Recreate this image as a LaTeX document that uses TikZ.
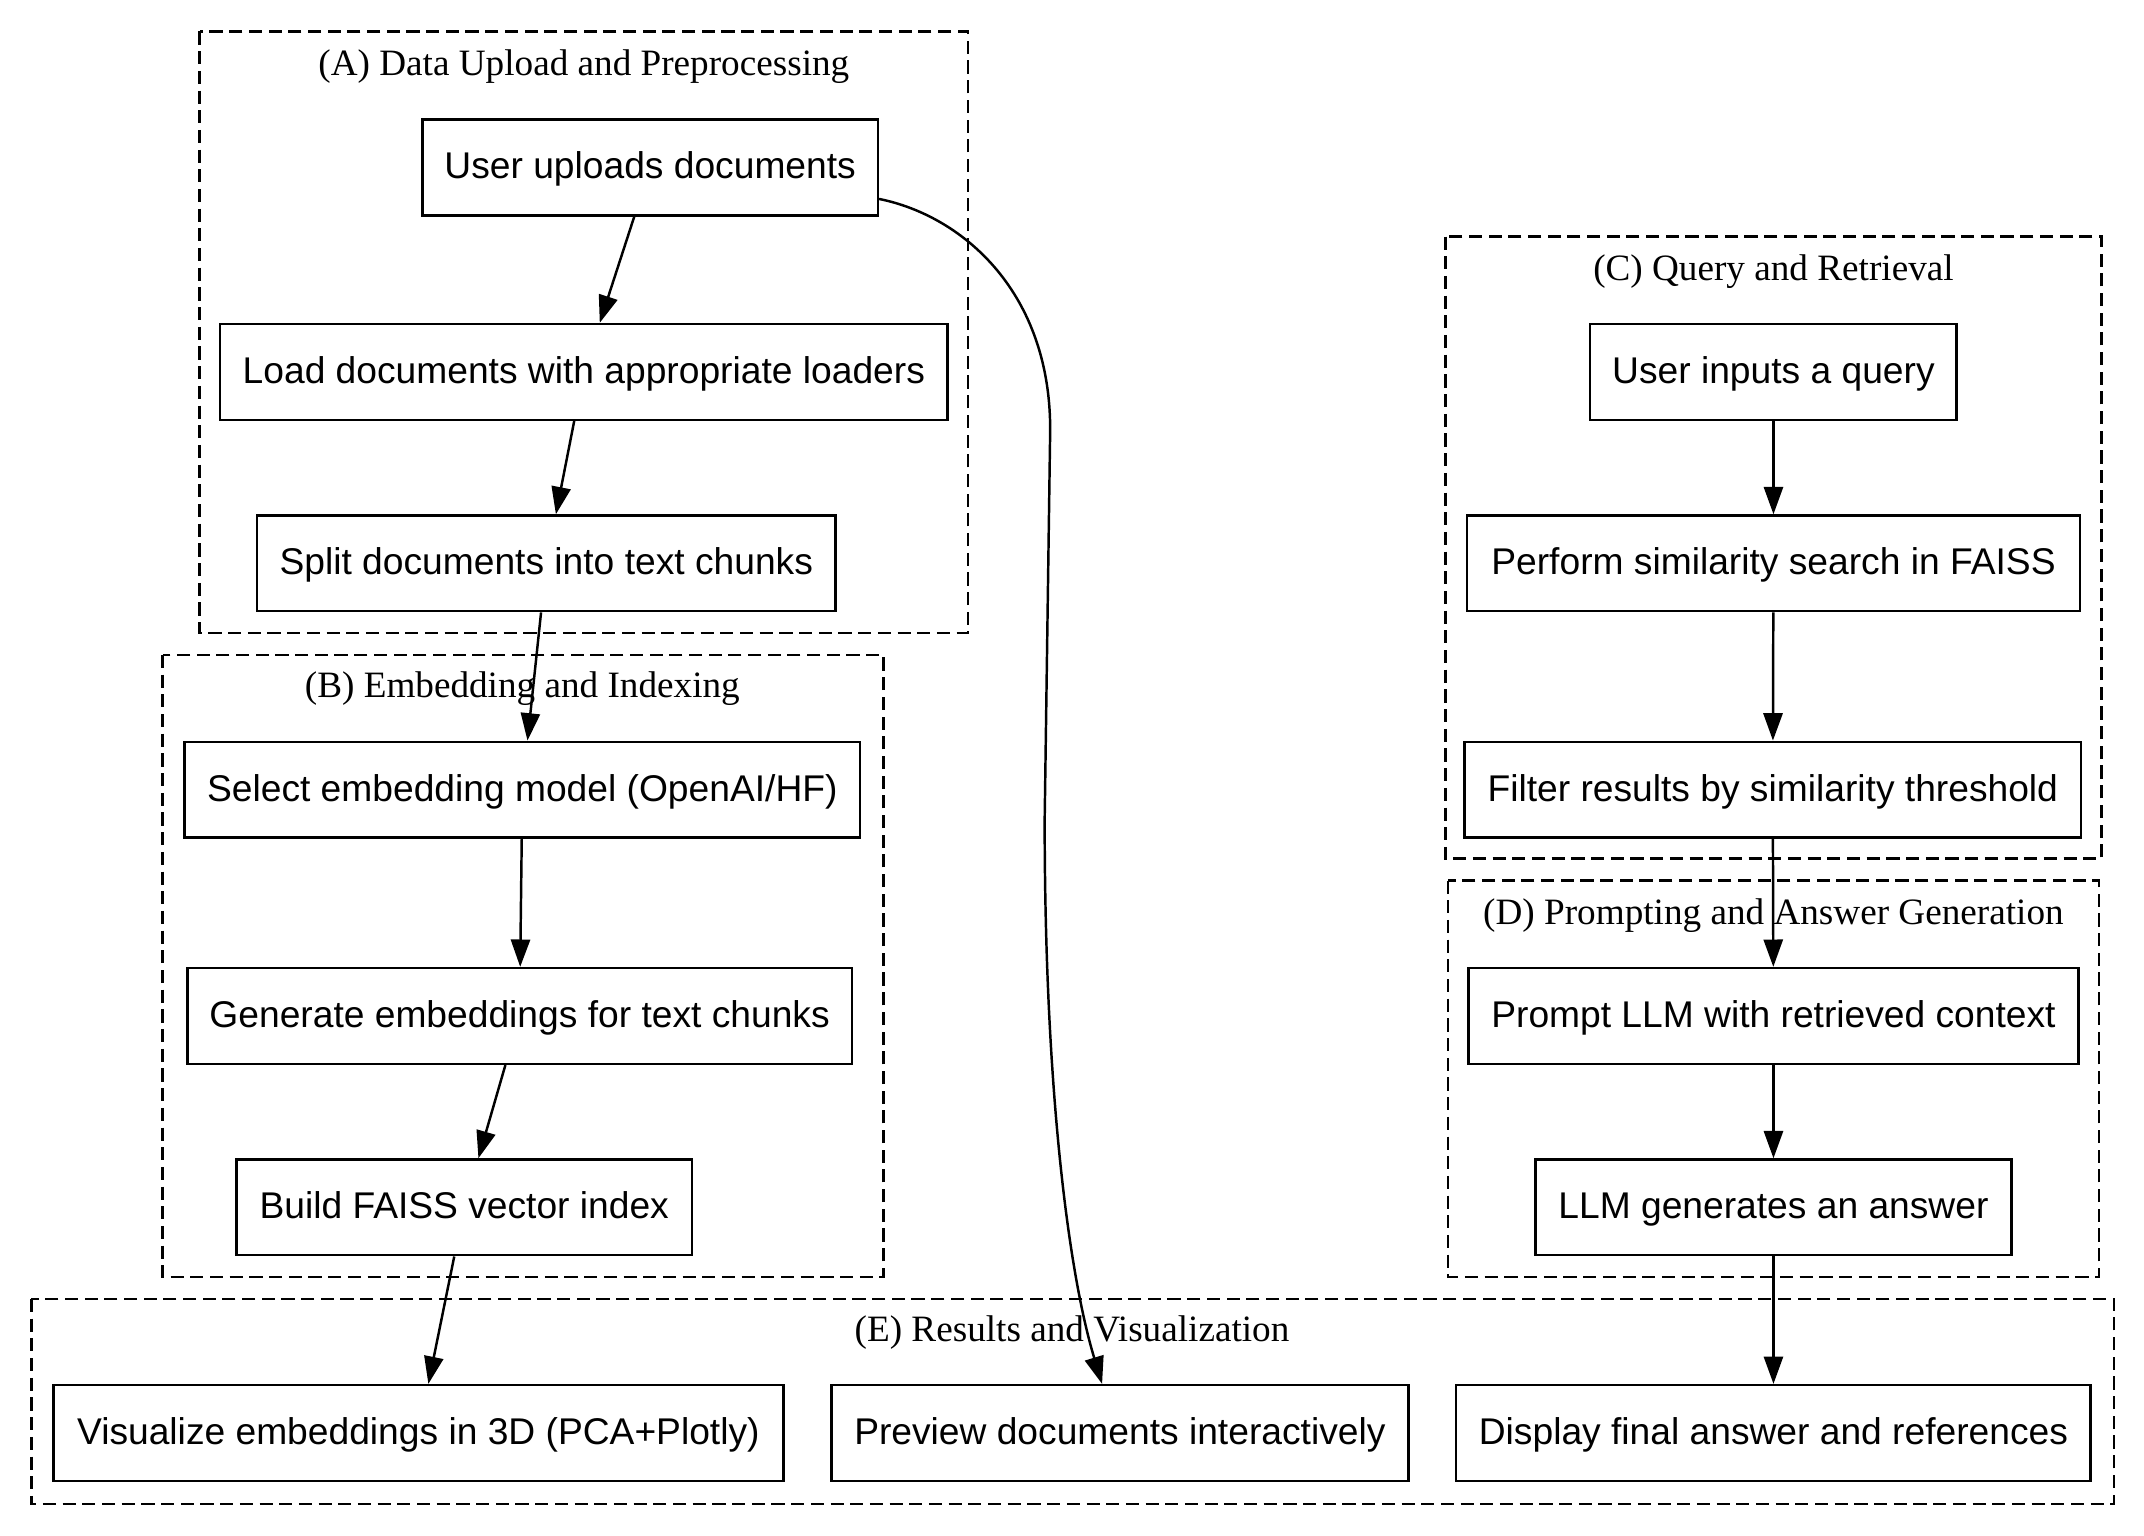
\documentclass[tikz,border=0pt]{standalone}
\usepackage{fontspec}
\setmainfont{Liberation Serif}
\newfontfamily\sansf{Liberation Sans}
\usetikzlibrary{arrows.meta,calc}
\begin{document}
\begin{tikzpicture}[x=0.5pt,y=-0.5pt,
  box/.style={draw, line width=0.9pt, inner sep=0pt, minimum height=35pt, text height=11.2pt, text depth=2.8pt, font=\sansf\fontsize{13.6}{16}\selectfont},
  clus/.style={draw, line width=0.9pt, dash pattern=on 4.8pt off 2.4pt},
  ctitle/.style={inner sep=0pt, yshift=-0.8pt, font=\fontsize{13.6}{16}\selectfont},
  arr/.style={line width=0.9pt, -{Triangle[length=10pt,width=7pt]}}]
\useasboundingbox (0,0) rectangle (1568,1123);
% clusters
\draw[clus] (146,23) rectangle (708,463);
\draw[clus] (119,479) rectangle (646,934);
\draw[clus] (1057,173) rectangle (1537,628);
\draw[clus] (1059,644) rectangle (1535,934);
\draw[clus] (23,950) rectangle (1546,1100);
\node[ctitle] (tA) at (427,47) {(A) Data Upload and Preprocessing};
\node[ctitle] (tB) at (382,502) {(B) Embedding and Indexing};
\node[ctitle] (tC) at (1297,197) {(C) Query and Retrieval};
\node[ctitle] (tD) at (1297,668) {(D) Prompting and Answer Generation};
\node[ctitle] (tE) at (784,973) {(E) Results and Visualization};
% nodes
\node[box, minimum width=166.5pt] (a1) at (475.5,122.5) {User uploads documents};
\node[box, minimum width=266pt] (a2) at (427,272) {Load documents with appropriate loaders};
\node[box, minimum width=211.5pt] (a3) at (399.5,412) {Split documents into text chunks};
\node[box, minimum width=247pt] (b1) at (382,577.5) {Select embedding model (OpenAI/HF)};
\node[box, minimum width=243pt] (b2) at (380,743) {Generate embeddings for text chunks};
\node[box, minimum width=166.5pt] (b3) at (339.5,883) {Build FAISS vector index};
\node[box, minimum width=134pt] (c1) at (1297,272) {User inputs a query};
\node[box, minimum width=224pt] (c2) at (1297,412) {Perform similarity search in FAISS};
\node[box, minimum width=225.5pt] (c3) at (1296.5,577.5) {Filter results by similarity threshold};
\node[box, minimum width=223pt] (d1) at (1297,743) {Prompt LLM with retrieved context};
\node[box, minimum width=174pt] (d2) at (1297,883) {LLM generates an answer};
\node[box, minimum width=267pt] (e1) at (306,1048) {Visualize embeddings in 3D (PCA+Plotly)};
\node[box, minimum width=211pt] (e2) at (819,1048) {Preview documents interactively};
\node[box, minimum width=232pt] (e3) at (1297,1048) {Display final answer and references};
% edges
\draw[arr] (a1) -- (a2);
\draw[arr] (a2) -- (a3);
\draw[arr] (a3) -- (b1);
\draw[arr] (b1) -- (b2);
\draw[arr] (b2) -- (b3);
\draw[arr] (b3) -- (e1);
\draw[arr] (c1) -- (c2);
\draw[arr] (c2) -- (c3);
\draw[arr] (c3) -- (d1);
\draw[arr] (d1) -- (d2);
\draw[arr] (d2) -- (e3);
\draw[arr] ([yshift=-11.5pt]a1.east) .. controls (705,158) and (769.4,215) .. (768,317)
  -- (764,600) .. controls (764,800) and (782,933) .. ([xshift=-6.5pt]e2.north);
\end{tikzpicture}
\end{document}
